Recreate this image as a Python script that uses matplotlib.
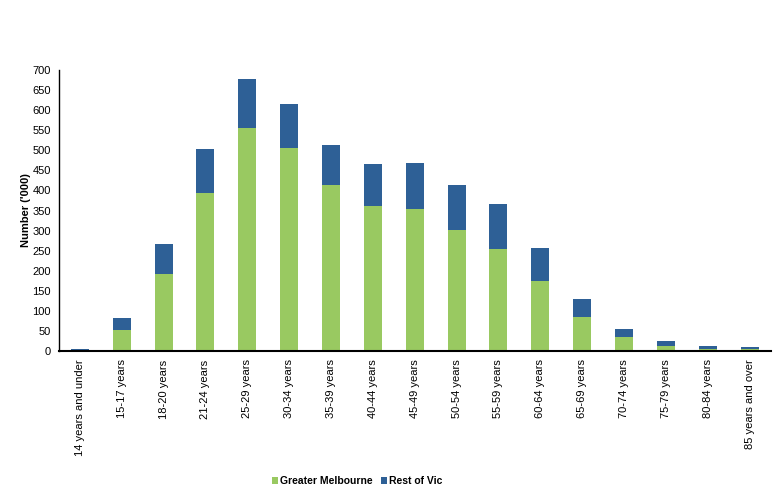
import numpy as np
import matplotlib.pyplot as plt

plt.rcParams['font.family'] = ['Liberation Sans', 'DejaVu Sans']

age_groups = ["14 years and under", "15-17 years", "18-20 years", "21-24 years",
              "25-29 years", "30-34 years", "35-39 years", "40-44 years",
              "45-49 years", "50-54 years", "55-59 years", "60-64 years",
              "65-69 years", "70-74 years", "75-79 years", "80-84 years",
              "85 years and over"]
greater_melbourne = [1, 52, 192, 394, 556, 506, 414, 361, 354, 301, 254, 174, 85, 35, 12, 5, 5]
rest_of_vic = [4, 30, 75, 109, 122, 109, 99, 105, 114, 113, 112, 83, 45, 20, 13, 7, 5]

green = '#99C961'
blue = '#2E6096'

fig = plt.figure(figsize=(7.82, 5.03), dpi=100)
ax = fig.add_axes([0.0754, 0.302, 0.910, 0.559])

x = np.arange(len(age_groups))
ax.bar(x, greater_melbourne, width=0.43, color=green, label='Greater Melbourne')
ax.bar(x, rest_of_vic, width=0.43, bottom=greater_melbourne, color=blue, label='Rest of Vic')

ax.set_xlim(-0.5, len(age_groups) - 0.5)
ax.set_ylim(0, 700)
ax.set_yticks(np.arange(0, 701, 50))
ax.set_xticks(x)
ax.set_xticklabels(age_groups, rotation=90, fontsize=8)
ax.tick_params(axis='y', labelsize=8, length=0, pad=6)
ax.tick_params(axis='x', length=0, pad=6)
ax.set_ylabel("Number ('000)", fontsize=8, fontweight='bold', labelpad=1)

for s in ['top', 'right']:
    ax.spines[s].set_visible(False)
ax.spines['left'].set_linewidth(1)
ax.spines['bottom'].set_linewidth(1.5)

fig.legend(loc='lower center', bbox_to_anchor=(0.457, 0.015), ncol=2, frameon=False,
           prop={'size': 7.5, 'weight': 'bold'}, handlelength=0.6, handleheight=0.6,
           handletextpad=0.2, columnspacing=0.8)

fig.savefig('out.png', dpi=100)
